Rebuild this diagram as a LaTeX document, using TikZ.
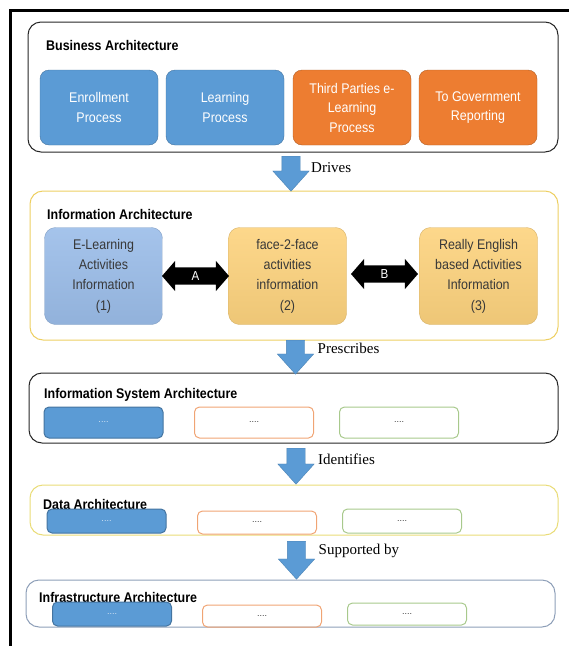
\documentclass[tikz,border=0pt]{standalone}
\usepackage{fontspec}
\setmainfont{Liberation Serif}
\setsansfont{Liberation Sans}
\newfontfamily\narrowsans[FakeStretch=0.89]{Liberation Sans}
\usetikzlibrary{shapes.arrows,calc}
\definecolor{procblue}{HTML}{5B9BD5}
\definecolor{procorange}{HTML}{ED7D31}
\definecolor{infoblue}{HTML}{9BBDE9}
\definecolor{infoorange}{HTML}{FDD37E}
\definecolor{textgray}{HTML}{383838}
\definecolor{goldline}{HTML}{EDCF62}
\definecolor{datagold}{HTML}{E9DC78}
\definecolor{infragray}{HTML}{8E9FB8}
\definecolor{greenline}{HTML}{A8C98C}
\definecolor{orangeline}{HTML}{F0A474}
\begin{document}
\begin{tikzpicture}[x=1pt,y=-1pt,font=\narrowsans,
  layer/.style={draw=#1,line width=1pt,rounded corners=13pt,inner sep=0pt},
  layertitle/.style={anchor=west,inner sep=0pt,font=\narrowsans\bfseries\fontsize{14}{16}\selectfont},
  procbox/.style={fill=#1,draw=#1!75!black,rounded corners=9pt,minimum width=118pt,minimum height=75pt,
    align=center,text=white,font=\narrowsans\fontsize{14}{19.5}\selectfont},
  infobox/.style={top color=#1!90!white,bottom color=#1!94!black,draw=#1!85!black,rounded corners=11pt,
    minimum width=118pt,minimum height=97pt,align=center,text=textgray,font=\narrowsans\fontsize{14}{20.3}\selectfont},
  slot/.style={draw=#1,line width=1pt,rounded corners=5pt,minimum width=119pt,inner sep=0pt,
    text=textgray,font=\sffamily\fontsize{9}{10}\selectfont},
  flowarrow/.style={single arrow,fill=procblue,draw=procblue!85!black,rotate=-90,inner xsep=0pt,inner ysep=9pt,
    single arrow head extend=9pt,single arrow tip angle=84,minimum height=#1},
  linkarrow/.style={double arrow,fill=black,text=white,inner xsep=1pt,inner ysep=4pt,
    double arrow head extend=6.5pt,double arrow tip angle=98,minimum height=67pt,font=\narrowsans\fontsize{13}{14}\selectfont},
  flowlabel/.style={anchor=west,inner sep=0pt,font=\rmfamily\fontsize{15}{17}\selectfont}]
  \useasboundingbox (0,0) rectangle (569,646);
  \draw[line width=3pt] (10,646) -- (10,10) -- (569,10);

  \node[layer=black!85,minimum width=530pt,minimum height=130pt] (business) at (293,87) {};
  \node[layertitle] (businesstitle) at (46,45) {Business Architecture};
  \node[procbox=procblue] (enroll) at (99,107.5) {Enrollment\\Process};
  \node[procbox=procblue] (learn) at (225,107.5) {Learning\\Process};
  \node[procbox=procorange] (third) at (352,107.5) {Third Parties e-\\Learning\\Process};
  \node[procbox=procorange] (gov) at (478,107.5) {To Government\\Reporting};

  \node[layer=goldline,minimum width=528pt,minimum height=149pt] (info) at (294,265.5) {};
  \node[layertitle] (infotitle) at (47,214) {Information Architecture};
  \node[infobox=infoblue] (elearn) at (103.5,276) {E-Learning\\Activities\\Information\\(1)};
  \node[infobox=infoorange] (face) at (287.5,276) {face-2-face\\activities\\information\\(2)};
  \node[infobox=infoorange] (really) at (478.5,276) {Really English\\based Activities\\Information\\(3)};
  \node[linkarrow] (linka) at ($(elearn.east)!0.5!(face.west)$) {A};
  \node[linkarrow] (linkb) at (384.5,274) {B};

  \node[layer=black!85,minimum width=529pt,minimum height=70pt] (infosys) at (293.5,408) {};
  \node[layertitle] (infosystitle) at (44,395) {Information System Architecture};
  \node[slot=procblue!75!black,fill=procblue,minimum height=31pt,text=white!75!procblue] (isblue) at (103.5,422.5) {....};
  \node[slot=orangeline,minimum height=31pt] (isorange) at (254,422.5) {....};
  \node[slot=greenline,minimum height=31pt] (isgreen) at (399,422.5) {....};

  \node[layer=datagold,minimum width=528pt,minimum height=50pt] (data) at (294,510) {};
  \node[layertitle] (datatitle) at (43,504) {Data Architecture};
  \node[slot=procblue!75!black,fill=procblue,minimum height=24pt,text=white!75!procblue] (datablue) at (106.5,521) {....};
  \node[slot=orangeline,minimum height=23pt] (dataorange) at (257,522.5) {....};
  \node[slot=greenline,minimum height=24pt] (datagreen) at (402,521) {....};

  \node[layer=infragray,minimum width=529pt,minimum height=47pt] (infra) at (290.5,603.5) {};
  \node[layertitle] (infratitle) at (39,597) {Infrastructure Architecture};
  \node[slot=procblue!75!black,fill=procblue,minimum height=24pt,text=white!75!procblue] (infrablue) at (112,614) {....};
  \node[slot=orangeline,minimum height=22pt] (infraorange) at (262,616) {....};
  \node[slot=greenline,minimum height=22pt] (infragreen) at (407,614) {....};

  \node[flowarrow=35pt,anchor=tip] (drives) at ([xshift=-3pt,yshift=-1pt]info.north) {};
  \node[flowlabel] (drivestxt) at ([xshift=20pt,yshift=1pt]drives.center) {Drives};
  \node[flowarrow=34pt,anchor=tip] (prescribes) at ([xshift=2pt,yshift=-2pt]infosys.north) {};
  \node[flowlabel] (prescribestxt) at ([xshift=22pt,yshift=4pt]prescribes.center) {Prescribes};
  \node[flowarrow=36pt,anchor=tip] (identifies) at ([xshift=2pt]data.north) {};
  \node[flowlabel] (identifiestxt) at ([xshift=22pt,yshift=2pt]identifies.center) {Identifies};
  \node[flowarrow=38pt,anchor=tip] (supported) at ([xshift=6pt]infra.north) {};
  \node[flowlabel] (supportedtxt) at ([xshift=22pt,yshift=4pt]supported.center) {Supported by};
\end{tikzpicture}
\end{document}
